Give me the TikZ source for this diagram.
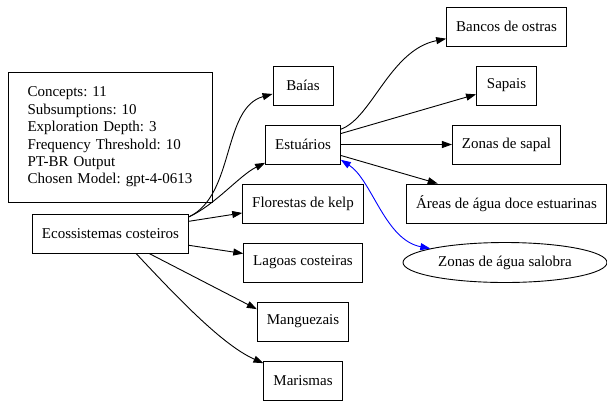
\documentclass[tikz,border=0pt]{standalone}
\usepackage{fontspec}
\setmainfont{Liberation Serif}
\usetikzlibrary{shapes.geometric, arrows.meta, positioning}
\tikzstyle{concept} = [rectangle, minimum width=60pt, minimum height=39pt, inner xsep=9.5pt, text centered, draw=black, line width=0.9pt]
\tikzstyle{summary} = [rectangle, minimum height=130pt, text width=166pt, inner xsep=19pt, align=left, draw=black, line width=0.9pt]
\tikzstyle{extra} = [ellipse, minimum width=204pt, minimum height=40pt, draw=black, line width=0.9pt]
\tikzstyle{arrow} = [line width=0.9pt,->,>={Triangle[length=10pt,width=7pt]}]
\tikzstyle{linked} = [arrow, <->, blue]

\begin{document}
\frenchspacing
\begin{tikzpicture}[x=1pt, y=-1pt, node distance=59pt, font=\fontsize{15}{17.4}\selectfont]
    \useasboundingbox (0,0) rectangle (607,400);
    \node (eco) [concept] at (110.5,233.5) {Ecossistemas costeiros};
    \node (stats) [summary, above=11pt of eco] {Concepts: 11\\
        Subsumptions: 10\\
        Exploration Depth: 3\\
        Frequency Threshold: 10\\
        PT-BR Output\\
        Chosen Model: gpt-4-0613};
    \node (baias) [concept] at (303,85.5) {Baías};
    \node (estuarios) [concept, below of=baias] {Estuários};
    \node (florestas) [concept, below of=estuarios] {Florestas de kelp};
    \node (lagoas) [concept, below of=florestas] {Lagoas costeiras};
    \node (manguezais) [concept, below of=lagoas] {Manguezais};
    \node (marismas) [concept, below of=manguezais] {Marismas};
    \node (sapais) [concept] at (506.5,85.5) {Sapais};
    \node (bancos) [concept, above of=sapais] {Bancos de ostras};
    \node (sapal) [concept, below of=sapais] {Zonas de sapal};
    \node (areas) [concept, below of=sapal] {Áreas de água doce estuarinas};
    \node (salobra) [extra, below of=areas, xshift=-1.5pt] {Zonas de água salobra};

    \draw [arrow] (eco.12) .. controls (235,195) and (222,108) .. (baias);
    \draw [arrow] (eco.12) .. controls (215,205) and (240,175) .. (estuarios);
    \draw [arrow] (eco) -- (florestas);
    \draw [arrow] (eco) -- (lagoas);
    \draw [arrow] (eco) -- (manguezais.165);
    \draw [arrow] (eco.-38) .. controls (175,295) and (222,345) .. (marismas);
    \draw [arrow] (estuarios.22) .. controls (372,118) and (390,50) .. (bancos);
    \draw [arrow] (estuarios) -- (sapais);
    \draw [arrow] (estuarios) -- (sapal);
    \draw [arrow] (estuarios) -- (areas);
    \draw [linked] (estuarios.-22) .. controls (372,180) and (385,240) .. (salobra);
\end{tikzpicture}
\end{document}
